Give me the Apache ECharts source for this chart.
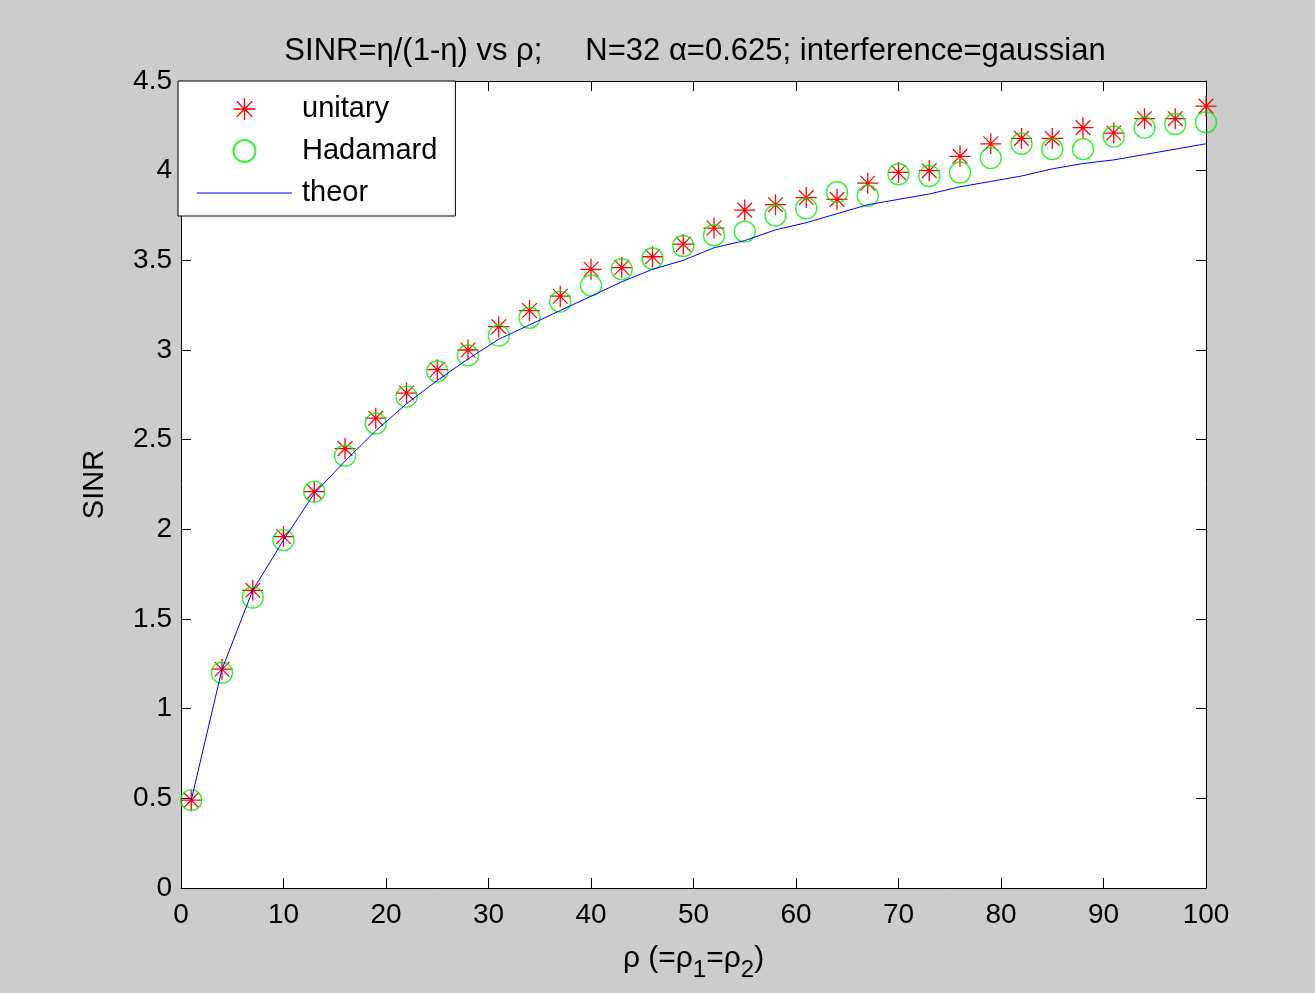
<!DOCTYPE html>
<html><head><meta charset="utf-8">
<script src="https://cdn.jsdelivr.net/npm/echarts@6/dist/echarts.min.js"></script>
<style>html,body{margin:0;padding:0;background:#cccccc;}#c{width:1315px;height:993px;}</style>
</head><body><div id="c"></div>
<script>
const rho = [1,4,7,10,13,16,19,22,25,28,31,34,37,40,43,46,49,52,55,58,61,64,67,70,73,76,79,82,85,88,91,94,97,100];
const unitary = [0.49,1.22,1.66,1.96,2.21,2.45,2.62,2.76,2.89,3.00,3.13,3.22,3.30,3.45,3.46,3.52,3.59,3.68,3.78,3.81,3.85,3.84,3.93,3.99,4.00,4.08,4.15,4.18,4.18,4.24,4.21,4.29,4.29,4.36];
const hadamard = [0.49,1.20,1.62,1.94,2.21,2.41,2.59,2.74,2.88,2.97,3.08,3.18,3.27,3.36,3.45,3.51,3.58,3.64,3.66,3.75,3.79,3.88,3.86,3.98,3.97,3.99,4.07,4.15,4.12,4.12,4.19,4.24,4.26,4.27];
const theor = [0.49,1.22,1.66,1.94,2.20,2.38,2.55,2.70,2.83,2.95,3.06,3.14,3.22,3.30,3.38,3.45,3.50,3.57,3.61,3.67,3.71,3.76,3.81,3.84,3.87,3.91,3.94,3.97,4.01,4.04,4.06,4.09,4.12,4.15];
const xTicks = [0,10,20,30,40,50,60,70,80,90,100];
const yTicks = [0,0.5,1,1.5,2,2.5,3,3.5,4,4.5];
const titleText = 'SINR=η/(1-η) vs ρ;     N=32 α=0.625; interference=gaussian';

const FONT = '"Liberation Sans", Arial, Helvetica, sans-serif';
const STAR = 'path://M9.4,0 L10.6,0 L10.6,20 L9.4,20 Z M0,9.4 L20,9.4 L20,10.6 L0,10.6 Z M3.4,2.6 L17.4,16.6 L16.6,17.4 L2.6,3.4 Z M16.6,2.6 L17.4,3.4 L3.4,17.4 L2.6,16.6 Z';
const HLINE = 'path://M0,0 L95,0 L95,1 L0,1 Z';
const pair = (ys) => rho.map((x, i) => [x, ys[i]]);

const chart = echarts.init(document.getElementById('c'), null, {renderer: 'canvas'});
const axisCommon = {
  type: 'value',
  axisLine: {show: true, onZero: false, lineStyle: {color: '#000', width: 1}},
  axisTick: {show: true, inside: true, length: 10, lineStyle: {color: '#000', width: 1}},
  splitLine: {show: false},
};
chart.setOption({
  backgroundColor: '#cccccc',
  animation: false,
  textStyle: {fontFamily: FONT},
  title: {
    text: titleText, left: 690, top: 31, textAlign: 'center',
    textStyle: {fontFamily: FONT, fontSize: 31, fontWeight: 'normal', color: '#000'}
  },
  grid: {left: 181, right: 109, top: 81, bottom: 105, show: true, backgroundColor: '#fff', borderWidth: 0},
  legend: {
    left: 178, top: 81, orient: 'vertical',
    backgroundColor: '#fff', borderColor: '#000', borderWidth: 1, borderRadius: 0,
    padding: [11, 18, 6, 19],
    itemWidth: 95, itemHeight: 22, itemGap: 8,
    textStyle: {fontFamily: FONT, fontSize: 29, color: '#000', lineHeight: 34, padding: [0, 0, 0, 5]},
    data: [
      {name: 'unitary', icon: STAR},
      {name: 'Hadamard', icon: 'circle'},
      {name: 'theor', icon: HLINE, itemStyle: {color: '#0000ff', borderWidth: 0}}
    ]
  },
  xAxis: [
    Object.assign({}, axisCommon, {
      min: 0, max: 100, interval: 10, position: 'bottom',
      axisLabel: {show: true, color: '#000', fontSize: 28, fontFamily: FONT, margin: 13},
      name: '{a|ρ (=ρ}{s|1}{a|=ρ}{s|2}{a|)}', nameLocation: 'middle', nameGap: 56,
      nameTextStyle: {
        rich: {
          a: {fontSize: 30, fontFamily: FONT, color: '#000', verticalAlign: 'top', lineHeight: 36},
          s: {fontSize: 24, fontFamily: FONT, color: '#000', verticalAlign: 'top', padding: [14, 0, 0, 0], lineHeight: 36}
        }
      }
    }),
    Object.assign({}, axisCommon, {
      min: 0, max: 100, interval: 10, position: 'top', axisLabel: {show: false}
    })
  ],
  yAxis: [
    Object.assign({}, axisCommon, {
      min: 0, max: 4.5, interval: 0.5, position: 'left',
      axisLabel: {show: true, color: '#000', fontSize: 28, fontFamily: FONT, margin: 9},
      name: 'SINR', nameLocation: 'middle', nameGap: 72, nameRotate: 90,
      nameTextStyle: {fontSize: 29, fontFamily: FONT, color: '#000'}
    }),
    Object.assign({}, axisCommon, {
      min: 0, max: 4.5, interval: 0.5, position: 'right', axisLabel: {show: false}
    })
  ],
  series: [
    {
      name: 'unitary', type: 'scatter', data: pair(unitary),
      symbol: STAR, symbolSize: 21, z: 3,
      itemStyle: {color: '#ff0000', opacity: 1}
    },
    {
      name: 'Hadamard', type: 'scatter', data: pair(hadamard),
      symbol: 'circle', symbolSize: 21, z: 4,
      itemStyle: {color: 'rgba(0,0,0,0)', borderColor: '#00f000', borderWidth: 1.4}
    },
    {
      name: 'theor', type: 'line', data: pair(theor),
      symbol: 'none', showSymbol: false, z: 5,
      lineStyle: {color: '#0000ff', width: 1},
      itemStyle: {color: '#0000ff'}
    }
  ]
});
</script>
</body></html>
